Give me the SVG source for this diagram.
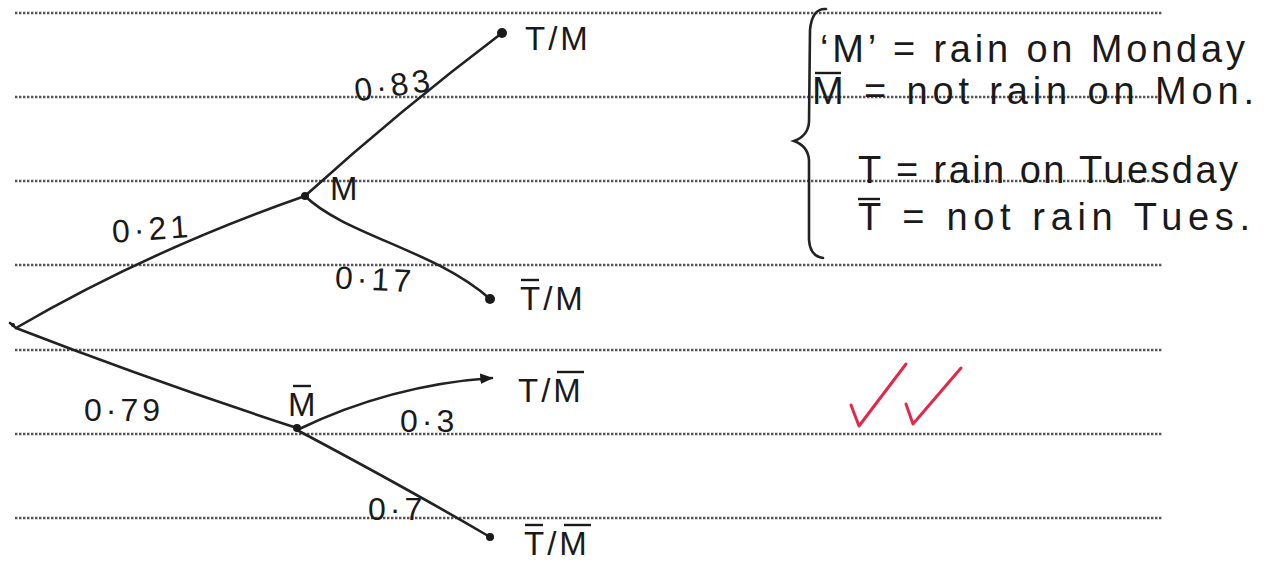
<svg xmlns="http://www.w3.org/2000/svg" width="1274" height="564" viewBox="0 0 1274 564">
<defs>
<style>
.rule{stroke:#555;stroke-width:2.4;stroke-dasharray:2.4 1.6;fill:none}
.edge{stroke:#222;stroke-width:2.6;fill:none;stroke-linecap:round}
.lbl{font-family:"Liberation Sans",Arial,sans-serif;font-size:32px;fill:#1a1a1a;letter-spacing:4px}
.leaf{font-family:"Liberation Sans",Arial,sans-serif;font-size:33px;fill:#1a1a1a;letter-spacing:3px}
.leg{font-family:"Liberation Sans",Arial,sans-serif;font-size:38px;fill:#1a1a1a}
.dot{fill:#1a1a1a}
.tick{stroke:#e2284b;stroke-width:3;fill:none;stroke-linecap:round;stroke-linejoin:round}
.bar{stroke:#1a1a1a;stroke-width:2.4}
</style>
<marker id="tip" viewBox="0 0 10 10" refX="9" refY="5" markerWidth="5" markerHeight="5" orient="auto">
<path d="M0,1 L10,5 L0,9 z" fill="#1a1a1a"/>
</marker>
</defs>
<rect width="1274" height="564" fill="#fff"/>
<g id="rules">
<line class="rule" x1="15" y1="13" x2="1163" y2="13"/>
<line class="rule" x1="15" y1="97" x2="1163" y2="97"/>
<line class="rule" x1="15" y1="181" x2="1163" y2="181"/>
<line class="rule" x1="15" y1="265" x2="1163" y2="265"/>
<line class="rule" x1="15" y1="350" x2="1163" y2="350"/>
<line class="rule" x1="15" y1="434" x2="1163" y2="434"/>
<line class="rule" x1="15" y1="518" x2="1163" y2="518"/>
</g>
<g id="connectors">
<path class="edge" d="M10,323 L16,328 Q150,250 305,196"/>
<path class="edge" d="M305,196 Q400,110 502,33"/>
<path class="edge" d="M305,196 C345,235 435,250 490,299"/>
<path class="edge" d="M16,328 Q150,380 297,428"/>
<path class="edge" d="M297,430 Q390,385 492,378" marker-end="url(#tip)"/>
<path class="edge" d="M297,430 Q410,490 490,537"/>
<text class="lbl" x="354" y="96" transform="rotate(-8 395 85)">0·83</text>
<text class="lbl" x="112" y="240" transform="rotate(-4 150 230)">0·21</text>
<text class="lbl" x="335" y="290" transform="rotate(3 370 280)">0·17</text>
<text class="lbl" x="84" y="421">0·79</text>
<text class="lbl" x="400" y="432">0·3</text>
<text class="lbl" x="368" y="520">0·7</text>
</g>
<g id="node-root"><circle class="dot" cx="13" cy="325" r="2"/></g>
<g id="node-M"><circle class="dot" cx="305" cy="196" r="4"/><text class="leaf" x="330" y="200">M</text></g>
<g id="node-notM"><circle class="dot" cx="297" cy="428" r="4"/><text class="leaf" x="288" y="416">M</text><line class="bar" x1="293" y1="386" x2="311" y2="386"/></g>
<g id="leaf-TM"><circle class="dot" cx="502" cy="33" r="5"/><text class="leaf" x="525" y="50">T/M</text></g>
<g id="leaf-notT-M"><circle class="dot" cx="490" cy="299" r="5"/><text class="leaf" x="520" y="310">T/M</text><line class="bar" x1="521" y1="280" x2="539" y2="280"/></g>
<g id="leaf-T-notM"><text class="leaf" x="518" y="402">T/M</text><line class="bar" x1="557" y1="372" x2="584" y2="372"/></g>
<g id="leaf-notT-notM"><circle class="dot" cx="490" cy="537" r="4"/><text class="leaf" x="524" y="555">T/M</text><line class="bar" x1="525" y1="525" x2="543" y2="525"/><line class="bar" x1="564" y1="525" x2="591" y2="525"/></g>
<g id="legend">
<path class="edge" d="M826,9 Q812,8 810,30 L809,122 Q808,136 794,141 Q808,146 809,160 L809,240 Q810,256 823,258"/>
<text class="leg" x="820" y="62" textLength="425" lengthAdjust="spacing">‘M’ = rain on Monday</text>
<text class="leg" x="812" y="104" textLength="442" lengthAdjust="spacing">M = not rain on Mon.</text>
<line class="bar" x1="815" y1="73" x2="841" y2="73"/>
<text class="leg" x="858" y="183" textLength="380" lengthAdjust="spacing">T = rain on Tuesday</text>
<text class="leg" x="858" y="230" textLength="392" lengthAdjust="spacing">T = not rain Tues.</text>
<line class="bar" x1="858" y1="199" x2="880" y2="199"/>
</g>
<g id="ticks">
<path class="tick" d="M851,405 L859,426 L906,364"/>
<path class="tick" d="M906,404 L913,424 L961,368"/>
</g>
</svg>
